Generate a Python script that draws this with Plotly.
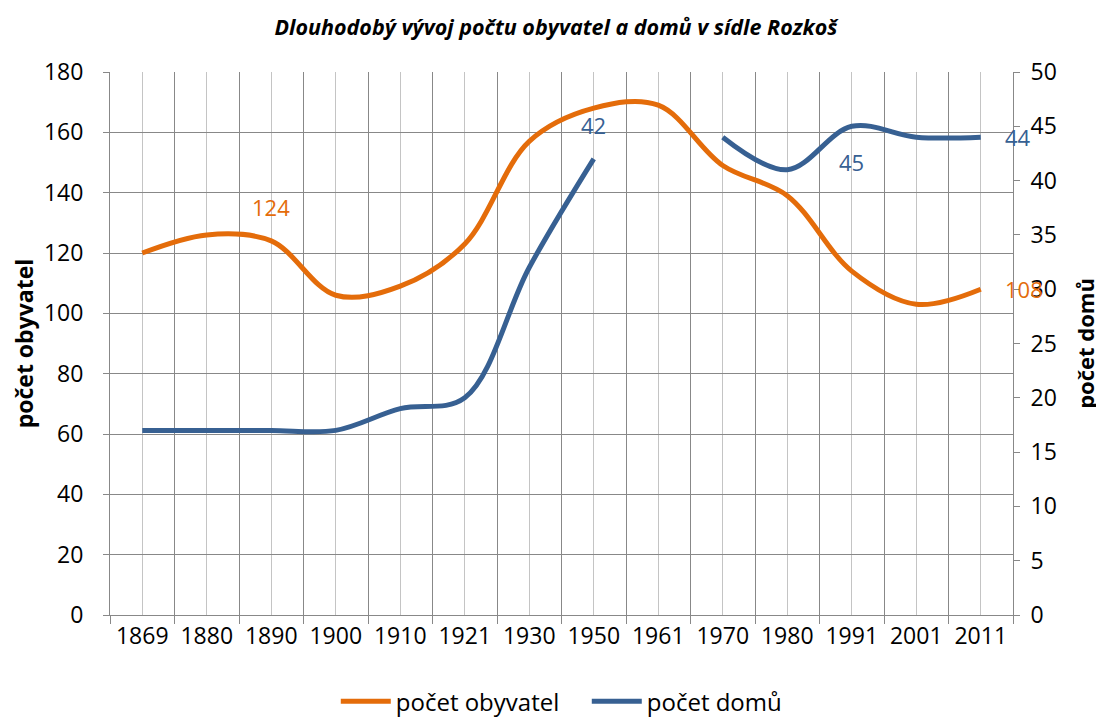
import plotly.graph_objects as go

# data
years = ["1869", "1880", "1890", "1900", "1910", "1921", "1930",
         "1950", "1961", "1970", "1980", "1991", "2001", "2011"]
obyvatel = [120, 126, 124, 106, 109, 123, 157, 168, 169, 149, 139, 114, 103, 108]
domy = [17, 17, 17, 17, 19, 20, 32, 42, None, 44, 41, 45, 44, 44]

# which points carry a data label: (year, where)
labels_obyvatel = [("1890", "top"), ("2011", "right")]
labels_domy = [("1950", "top"), ("1991", "bottom"), ("2011", "right")]

ORANGE = "#E46C0A"
BLUE = "#376092"
GRID = "#888888"
GRID_LIGHT = "#c4c4c4"
FONT = "Open Sans"

x_idx = list(range(len(years)))

fig = go.Figure()

fig.add_trace(
    go.Scatter(
        x=x_idx,
        y=obyvatel,
        mode="lines",
        name="počet obyvatel",
        line=dict(color=ORANGE, width=5, shape="spline", smoothing=1),
        yaxis="y"
    )
)

fig.add_trace(
    go.Scatter(
        x=x_idx,
        y=domy,
        mode="lines",
        name="počet domů",
        line=dict(color=BLUE, width=5, shape="spline", smoothing=1),
        yaxis="y2"
    )
)

# data labels
def add_labels(values, labels, yref, color):
    for year, where in labels:
        i = years.index(year)
        ann = dict(
            x=i, y=values[i], xref="x", yref=yref,
            text=str(values[i]), showarrow=False,
            font=dict(family=FONT, size=22, color=color)
        )
        if where == "top":
            ann.update(yshift=34)
        elif where == "bottom":
            ann.update(yshift=-36)
        else:
            ann.update(xanchor="left", xshift=22)
        fig.add_annotation(**ann)


add_labels(obyvatel, labels_obyvatel, "y", ORANGE)
add_labels(domy, labels_domy, "y2", BLUE)

# the page body adds an 8 px offset, so the figure is a little smaller
fig.update_layout(
    width=1096,
    height=710,
    margin=dict(l=102, r=91, t=64, b=103, autoexpand=False),
    paper_bgcolor="white",
    plot_bgcolor="white",
    font=dict(family=FONT, size=23, color="black"),
    title=dict(
        text="<b><i>Dlouhodobý vývoj počtu obyvatel a domů v sídle Rozkoš</i></b>",
        x=0.5, xanchor="center", y=0.973, yanchor="middle",
        font=dict(family=FONT, size=21.5, color="black")
    ),
    showlegend=True,
    legend=dict(
        orientation="h",
        x=0.528, xanchor="center",
        y=-0.118, yanchor="top",
        font=dict(family=FONT, size=24),
        itemwidth=50,
        entrywidth=186,
        tracegroupgap=0
    ),
    xaxis=dict(
        range=[-0.5, len(years) - 0.5],
        tickmode="array",
        tickvals=x_idx,
        ticktext=years,
        ticks="",
        showgrid=True,
        gridcolor=GRID_LIGHT,
        gridwidth=1,
        zeroline=False,
        showline=True,
        linecolor=GRID,
        automargin=False,
        minor=dict(
            tickmode="array",
            tickvals=[i - 0.5 for i in range(len(years) + 1)],
            ticks="outside",
            ticklen=8,
            tickcolor=GRID,
            showgrid=True,
            gridcolor=GRID,
            gridwidth=1
        ),
        tickfont=dict(size=23)
    ),
    yaxis=dict(
        range=[0, 180],
        dtick=20,
        ticks="outside",
        ticklen=6,
        tickcolor=GRID,
        showline=True,
        linecolor=GRID,
        showgrid=True,
        gridcolor=GRID,
        zeroline=False,
        automargin=False,
        ticklabelstandoff=15,
        title=dict(text="<b>počet obyvatel</b>", font=dict(size=23), standoff=6),
        tickfont=dict(size=23)
    ),
    yaxis2=dict(
        range=[0, 50],
        dtick=5,
        overlaying="y",
        side="right",
        ticks="outside",
        ticklen=6,
        tickcolor=GRID,
        showline=True,
        linecolor=GRID,
        showgrid=False,
        zeroline=False,
        automargin=False,
        ticklabelstandoff=6,
        title=dict(text="<b>počet domů</b>", font=dict(size=22), standoff=22),
        tickfont=dict(size=23)
    )
)

fig.write_html("out.html")
